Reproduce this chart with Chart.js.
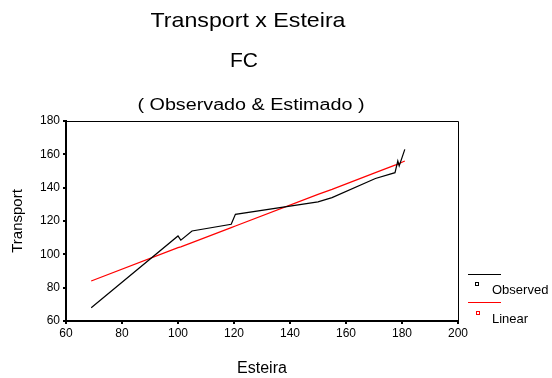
<!DOCTYPE html>
<html>
<head>
<meta charset="utf-8">
<script src="https://cdn.jsdelivr.net/npm/chart.js@4"></script>
<style>
  html, body { margin: 0; padding: 0; background: #fff; }
  #wrap { width: 552px; height: 378px; }
</style>
</head>
<body>
<div id="wrap"><canvas id="chart" width="552" height="378"></canvas></div>
<script>
// Esteira (x) values and observed / linear Transport values
const esteira = [69, 100, 101, 105, 119, 120.5, 150, 155, 170.5, 177.5, 178.5, 179, 181];
const observed = [68, 111, 108.5, 114, 118, 124, 131.5, 134, 145.5, 149, 156, 153, 163];
const linear = [84, 104, 104.5, 107, 116, 117, 136, 139, 149, 153.5, 154, 154.5, 156];

const xTicks = [60, 80, 100, 120, 140, 160, 180, 200];
const yTicks = [60, 80, 100, 120, 140, 160, 180];

const FONT = "Arial, 'Liberation Sans', sans-serif";

// titles, frame and legend drawn on the canvas
const decor = {
  id: "decor",
  afterDraw(chart) {
    const ctx = chart.ctx;
    const a = chart.chartArea;
    ctx.save();
    // frame top / right
    ctx.strokeStyle = "#000";
    ctx.lineWidth = 1;
    ctx.beginPath();
    ctx.moveTo(a.left, a.top + 0.5);
    ctx.lineTo(a.right + 0.5, a.top + 0.5);
    ctx.lineTo(a.right + 0.5, a.bottom);
    ctx.stroke();

    // titles
    ctx.fillStyle = "#000";
    ctx.textAlign = "center";
    ctx.textBaseline = "alphabetic";
    const stretched = (txt, x, y, size, width) => {
      ctx.font = size + "px " + FONT;
      const w = ctx.measureText(txt).width;
      ctx.save();
      ctx.translate(x, y);
      ctx.scale(width / w, 1);
      ctx.fillText(txt, 0, 0);
      ctx.restore();
    };
    stretched("Transport x Esteira", 248, 27, 21, 195);
    stretched("FC", 244, 67, 20, 28);
    stretched("( Observado & Estimado )", 251, 110, 16, 227);

    // legend
    ctx.textAlign = "left";
    ctx.font = "13px " + FONT;
    ctx.lineWidth = 1;
    ctx.strokeStyle = "#000";
    ctx.beginPath();
    ctx.moveTo(468, 274.5);
    ctx.lineTo(501, 274.5);
    ctx.stroke();
    ctx.strokeRect(475.5, 282.5, 3, 3);
    ctx.fillText("Observed", 492, 294);

    ctx.strokeStyle = "#ff0000";
    ctx.beginPath();
    ctx.moveTo(468, 302.5);
    ctx.lineTo(501, 302.5);
    ctx.stroke();
    ctx.strokeRect(476.5, 311.5, 3, 3);
    ctx.fillText("Linear", 492, 323);
    ctx.restore();
  }
};

new Chart(document.getElementById("chart"), {
  type: "scatter",
  data: {
    datasets: [
      {
        label: "Observed",
        data: esteira.map((x, i) => ({ x: x, y: observed[i] })),
        showLine: true,
        borderColor: "#000",
        borderWidth: 1.2,
        pointRadius: 0,
        tension: 0,
      },
      {
        label: "Linear",
        data: esteira.map((x, i) => ({ x: x, y: linear[i] })),
        showLine: true,
        borderColor: "#ff0000",
        borderWidth: 1.2,
        pointRadius: 0,
        tension: 0,
      },
    ],
  },
  options: {
    responsive: false,
    animation: false,
    layout: { padding: { top: 121, right: 94, left: 0, bottom: 0 } },
    plugins: {
      legend: { display: false },
      tooltip: { enabled: false },
    },
    scales: {
      x: {
        type: "linear",
        min: 60,
        max: 200,
        afterBuildTicks: (s) => { s.ticks = xTicks.map((v) => ({ value: v })); },
        afterFit: (s) => { s.height = 57; },
        grid: { drawOnChartArea: false, color: "#000", lineWidth: 2, tickLength: 3 },
        border: { color: "#000", width: 2 },
        ticks: { color: "#000", font: { family: FONT, size: 12 }, padding: 2, maxRotation: 0 },
        title: { display: true, text: "Esteira", color: "#000", font: { family: FONT, size: 16 }, padding: { top: 21, bottom: 0 } },
      },
      y: {
        type: "linear",
        min: 60,
        max: 180,
        afterBuildTicks: (s) => { s.ticks = yTicks.map((v) => ({ value: v })); },
        afterFit: (s) => { s.width = 66; },
        grid: { drawOnChartArea: false, color: "#000", lineWidth: 2, tickLength: 3 },
        border: { color: "#000", width: 2 },
        ticks: { color: "#000", font: { family: FONT, size: 12 }, padding: 3 },
        title: { display: true, text: "Transport", color: "#000", font: { family: FONT, size: 15 }, padding: { top: 9, bottom: 0 } },
      },
    },
  },
  plugins: [decor],
});
</script>
</body>
</html>
